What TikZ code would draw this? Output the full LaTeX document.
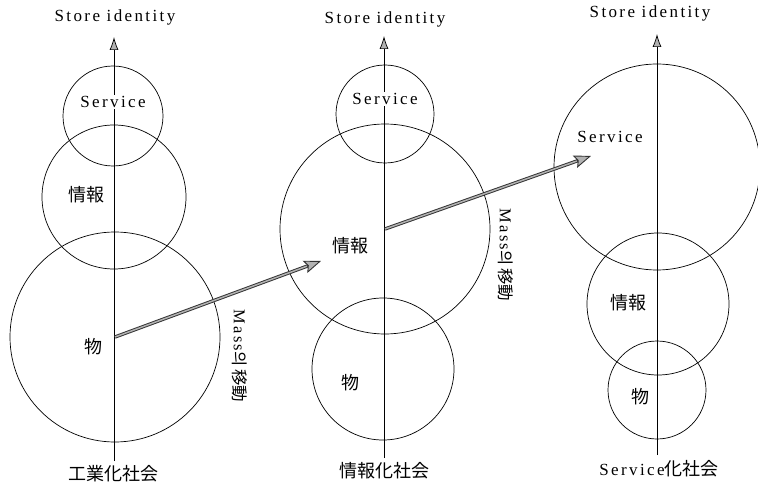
\documentclass[tikz,border=0pt]{standalone}
\usepackage{fontspec}
\setmainfont{Liberation Serif}
\newfontfamily\spaced[LetterSpace=14]{Liberation Serif}
\newfontfamily\cjk{Noto Sans CJK JP}
\newfontfamily\kr{Noto Sans CJK KR}
\usetikzlibrary{arrows.meta}
\tikzset{
  ring/.style={circle, draw, line width=0.7pt, inner sep=0pt},
  axisline/.style={line width=0.7pt, -{Latex[length=13pt,width=9pt,fill=gray!60,line width=0.7pt]}},
  lat/.style={font=\spaced\fontsize{17}{20}\selectfont, inner sep=1pt},
  cj/.style={font=\cjk\fontsize{18}{20}\selectfont, inner sep=1pt},
  masslbl/.style={font=\fontsize{16.5}{18}\selectfont, rotate=-90, inner sep=1pt},
  fatarrow/.style={line width=3.4pt, draw=black!80,
    -{Stealth[length=17pt,width=13pt,inset=3pt,fill=gray!60,line width=0.9pt]},
    postaction={draw=gray!60, line width=1.5pt, -, shorten >=15pt}}
}
\begin{document}
\begin{tikzpicture}[x=1pt,y=-1pt]
\useasboundingbox (0,0) rectangle (758,492);
% ---- column 1
\coordinate (b1) at (114,461);
\coordinate (t1) at (114,37);
\draw[axisline] (b1) -- (t1);
\node[ring, minimum size=100pt] (s1) at (113,116) {};
\node[ring, minimum size=144pt] (i1) at (114,197) {};
\node[ring, minimum size=210pt] (m1) at (115,337) {};
\node[lat, fill=white] (ls1) at (113,102) {Service};
\node[cj] (li1) at (86,195) {情報};
\node[cj] (lm1) at (93,347) {物};
\node[lat] (top1) at (115,17) {Store identity};
\node[cj] (bot1) at (113,474) {工業化社会};
% ---- column 2
\coordinate (b2) at (384,458);
\coordinate (t2) at (384,36);
\draw[axisline] (b2) -- (t2);
\node[ring, minimum size=98pt] (s2) at (385,114) {};
\node[ring, minimum size=210pt] (i2) at (385,229) {};
\node[ring, minimum size=142pt] (m2) at (383,369) {};
\node[lat, fill=white] (ls2) at (385,99) {Service};
\node[cj] (li2) at (350,246) {情報};
\node[cj] (lm2) at (350,383) {物};
\node[lat] (top2) at (385,19) {Store identity};
\node[cj] (bot2) at (384,471) {情報化社会};
% ---- column 3
\coordinate (b3) at (657,455);
\coordinate (t3) at (657,34);
\draw[axisline] (b3) -- (t3);
\node[ring, minimum size=206pt] (s3) at (657,167) {};
\node[ring, minimum size=142pt] (i3) at (658,304) {};
\node[ring, minimum size=98pt] (m3) at (657,390) {};
\node[lat] (ls3) at (610,137) {Service};
\node[cj] (li3) at (628,303) {情報};
\node[cj] (lm3) at (640,397) {物};
\node[lat] (top3) at (650,13) {Store identity};
\node[inner sep=1pt] (bot3) at (659,469) {{\spaced\fontsize{17}{20}\selectfont Service}{\cjk\fontsize{18}{20}\selectfont 化社会}};
% ---- mass movement arrows
\coordinate (e1) at (321,261);
\coordinate (e2) at (591,156);
\draw[fatarrow] (m1.center) -- (e1);
\draw[fatarrow] (i2.center) -- (e2);
\node[masslbl] (mass1) at (240,356) {{\spaced Mass}{\kr 의}\,{\cjk 移動}};
\node[masslbl] (mass2) at (506,255) {{\spaced Mass}{\kr 의}\,{\cjk 移動}};
\end{tikzpicture}
\end{document}
